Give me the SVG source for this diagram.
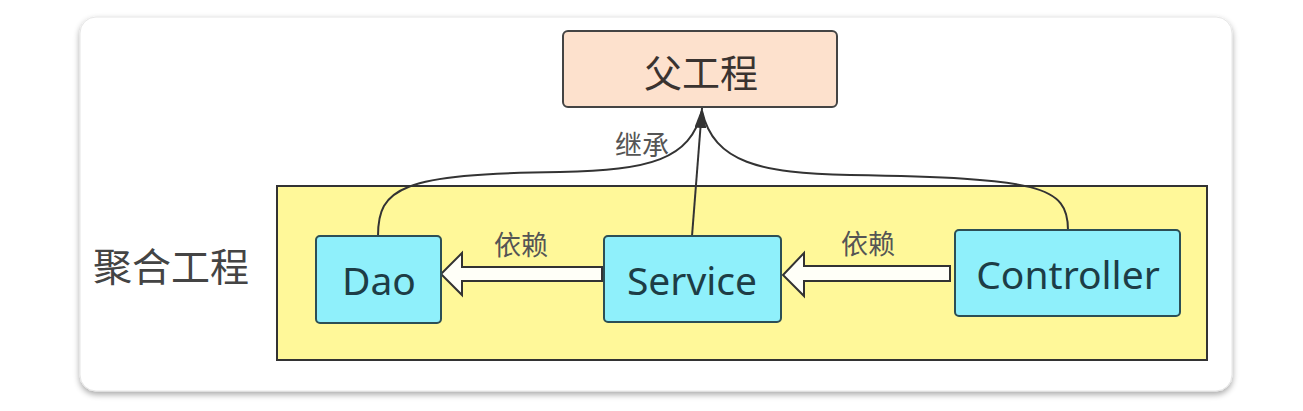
<svg xmlns="http://www.w3.org/2000/svg" width="1303" height="411" viewBox="0 0 1303 411">
<defs>
<filter id="sh" x="-5%" y="-10%" width="110%" height="125%">
<feGaussianBlur in="SourceAlpha" stdDeviation="3"/>
<feOffset dx="0" dy="3" result="b"/>
<feComponentTransfer><feFuncA type="linear" slope="0.35"/></feComponentTransfer>
<feMerge><feMergeNode/><feMergeNode in="SourceGraphic"/></feMerge>
</filter>
<marker id="ah" markerWidth="22" markerHeight="12" refX="20" refY="6" orient="auto" markerUnits="userSpaceOnUse" viewBox="0 0 22 12">
<path d="M0,0 L20,6 L0,12 Z" fill="#333"/>
</marker>
<style>
.mod{fill:#8ff0fb;stroke:#2c4f55;stroke-width:2}
.modt{font-family:"Noto Sans","Open Sans","Noto Sans CJK SC",sans-serif;font-size:39px;fill:#1d3d46;text-anchor:middle}
.cjk{font-family:"Noto Sans CJK SC","Noto Sans",sans-serif}
.edge{fill:none;stroke:#333;stroke-width:2}
.blk{fill:#fffff8;stroke:#333;stroke-width:2;stroke-linejoin:miter}
.lbl{font-size:27px;fill:#555;text-anchor:middle}
</style>
</defs>
<rect x="0" y="0" width="1303" height="411" fill="#ffffff"/>
<g id="card">
<rect x="80" y="17" width="1152" height="374" rx="16" fill="#ffffff" stroke="#e6e6e6" stroke-width="1" filter="url(#sh)"/>
</g>
<g id="aggregate">
<rect x="277" y="186" width="930" height="174" fill="#fff899" stroke="#333" stroke-width="2"/>
<text class="cjk" x="171" y="281" font-size="39" fill="#444" text-anchor="middle">聚合工程</text>
</g>
<g id="parent">
<rect x="563" y="31" width="274" height="76" rx="5" fill="#fde1cd" stroke="#444" stroke-width="2"/>
<text class="cjk" x="701" y="87" font-size="38" fill="#3a3330" text-anchor="middle">父工程</text>
</g>
<g id="connectors">
<path class="edge" d="M378,236 C378,188 400,174 560,172 C650,170 690,160 702,111"/>
<path class="edge" d="M1068,230 C1068,186 1040,178 850,175 C760,173 714,163 702,111"/>
<path class="edge" d="M692,236 L702,108" marker-end="url(#ah)"/>
<text class="cjk lbl" x="642" y="155">继承</text>
<path class="blk" d="M602,267 L462,267 L462,253 L441,274 L462,295 L462,281 L602,281 Z"/>
<text class="cjk lbl" x="521" y="255">依赖</text>
<path class="blk" d="M950,266 L804,266 L804,253 L783,275 L804,296 L804,281 L950,281 Z"/>
<text class="cjk lbl" x="868" y="254">依赖</text>
</g>
<g id="dao">
<rect class="mod" x="316" y="236" width="125" height="87" rx="4"/>
<text class="modt" x="379" y="295">Dao</text>
</g>
<g id="service">
<rect class="mod" x="604" y="236" width="177" height="86" rx="4"/>
<text class="modt" x="692" y="295">Service</text>
</g>
<g id="controller">
<rect class="mod" x="955" y="230" width="225" height="86" rx="4"/>
<text class="modt" x="1068" y="289">Controller</text>
</g>
</svg>
